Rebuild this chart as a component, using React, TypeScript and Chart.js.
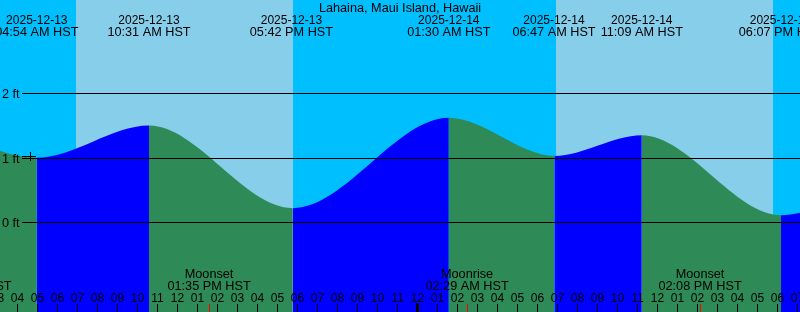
import React, { useEffect, useRef } from 'react';
import { Chart, registerables } from 'chart.js';

Chart.register(...registerables);

// ---- data (hours counted from 2025-12-13 00:00 HST) ----
const stationTitle = 'Lahaina, Maui Island, Hawaii';

// tide extremes as drawn (first and last lie just outside the visible window)
const tideHours = [-0.5, 4.97, 10.58, 17.77, 25.57, 30.85, 35.22, 42.18, 50.3];
const tideFeet = [1.58, 1.0, 1.5, 0.22, 1.62, 1.03, 1.35, 0.11, 1.6];

// labelled tide events along the top
const eventHours = [4.97, 10.58, 17.7, 25.57, 30.83, 35.22, 42.15];
const eventDates = ['2025-12-13', '2025-12-13', '2025-12-13', '2025-12-14', '2025-12-14', '2025-12-14', '2025-12-14'];
const eventTimes = ['04:54 AM HST', '10:31 AM HST', '05:42 PM HST', '01:30 AM HST', '06:47 AM HST', '11:09 AM HST', '06:07 PM HST'];

// sun
const sunriseHours = [6.93, 30.93];
const sunsetHours = [17.78, 41.78];

// moon events along the bottom
const moonHours = [1.63, 13.583, 26.483, 38.133];
const moonNames = ['Moonrise', 'Moonset', 'Moonrise', 'Moonset'];
const moonTimes = ['01:38 AM HST', '01:35 PM HST', '02:29 AM HST', '02:08 PM HST'];

// level lines
const levelFeet = [0, 1, 2];
const levelLabels = ['0 ft', '1 ft', '2 ft'];

// hour ticks
const tickHours = [3, 4, 5, 6, 7, 8, 9, 10, 11, 12, 13, 14, 15, 16, 17, 18, 19, 20, 21, 22, 23, 24, 25, 26, 27, 28, 29, 30, 31, 32, 33, 34, 35, 36, 37, 38, 39, 40, 41, 42, 43, 44];
const tickLabels = ['03', '04', '05', '06', '07', '08', '09', '10', '11', '12', '01', '02', '03', '04', '05', '06', '07', '08', '09', '10', '11', '12', '01', '02', '03', '04', '05', '06', '07', '08', '09', '10', '11', '12', '01', '02', '03', '04', '05', '06', '07', '08'];

// ---- styles ----
const NIGHT = '#00BFFF';
const DAY = '#87CEEB';
const RISING = '#0000FF';
const FALLING = '#2E8B57';
const FAMILY = '"Liberation Sans", Arial, Helvetica, sans-serif';
const FONT_TEXT = '12.7px ' + FAMILY;
const FONT_DIGITS = '12px ' + FAMILY;

const decorPlugin = {
  id: 'tideDecor',
  beforeDatasetsDraw(chart: any) {
    const { ctx, chartArea: a, scales } = chart;
    const x = scales.x;
    ctx.save();
    ctx.fillStyle = NIGHT;
    ctx.fillRect(a.left, a.top, a.right - a.left, a.bottom - a.top);
    ctx.fillStyle = DAY;
    sunriseHours.forEach((sr, i) => {
      const x0 = Math.round(x.getPixelForValue(sr));
      const x1 = Math.round(x.getPixelForValue(sunsetHours[i]));
      ctx.fillRect(x0, a.top, x1 - x0, a.bottom - a.top);
    });
    ctx.restore();
  },
  afterDatasetsDraw(chart: any) {
    const { ctx, chartArea: a, scales } = chart;
    const x = scales.x;
    const y = scales.y;
    ctx.save();
    // level lines
    ctx.fillStyle = '#000';
    levelFeet.forEach((f) => {
      const py = Math.round(y.getPixelForValue(f));
      ctx.fillRect(22, py, a.right - 22, 1);
    });
    // plus mark near the 1 ft line
    const p1 = Math.round(y.getPixelForValue(1));
    ctx.fillRect(22, p1 - 2, 14, 1);
    ctx.fillRect(30, p1 - 6, 1, 9);

    ctx.textBaseline = 'alphabetic';
    ctx.fillStyle = '#000';
    ctx.textAlign = 'left';
    ctx.font = FONT_TEXT;
    levelFeet.forEach((f, i) => {
      const py = Math.round(y.getPixelForValue(f));
      ctx.fillText(levelLabels[i], 2, py + 5);
    });

    ctx.textAlign = 'center';
    ctx.fillText(stationTitle, (a.left + a.right) / 2, 12);
    eventHours.forEach((h, i) => {
      const px = x.getPixelForValue(h);
      ctx.font = FONT_DIGITS;
      ctx.fillText(eventDates[i], px, 24);
      ctx.font = FONT_TEXT;
      ctx.fillText(eventTimes[i], px, 36);
    });

    moonHours.forEach((h, i) => {
      const px = x.getPixelForValue(h);
      ctx.fillText(moonNames[i], px, 278);
      ctx.fillText(moonTimes[i], px, 290);
    });

    ctx.font = FONT_DIGITS;
    tickHours.forEach((h, i) => {
      const px = x.getPixelForValue(h);
      const cx = Math.round(px);
      ctx.fillStyle = '#000';
      if (h % 24 === 0) {
        ctx.fillRect(cx - 1, 303, 3, 9);
      } else {
        ctx.fillRect(cx, 304, 1, 8);
      }
      ctx.fillText(tickLabels[i], px, 302);
    });

    ctx.fillStyle = '#FF0000';
    moonHours.forEach((h) => {
      const cx = Math.round(x.getPixelForValue(h));
      ctx.fillRect(cx, 304, 1, 8);
    });
    ctx.restore();
  },
};

export default function App() {
  const ref = useRef<HTMLCanvasElement | null>(null);
  useEffect(() => {
    document.body.style.margin = '0';
    const canvas = ref.current;
    if (!canvas) return;
    const chart = new Chart(canvas, {
      type: 'line',
      data: {
        datasets: [
          {
            data: tideHours.map((h, i) => ({ x: h, y: tideFeet[i] })),
            fill: 'start',
            backgroundColor: FALLING,
            borderWidth: 0,
            pointRadius: 0,
            cubicInterpolationMode: 'monotone',
            capBezierPoints: false,
            segment: {
              backgroundColor: (c: any) => (c.p1.parsed.y > c.p0.parsed.y ? RISING : FALLING),
            },
          } as any,
        ],
      },
      options: {
        responsive: false,
        animation: false,
        devicePixelRatio: 1,
        events: [],
        layout: { padding: 0 },
        scales: {
          x: { type: 'linear', min: 3.13, max: 43.13, display: false },
          y: { type: 'linear', min: -1.39, max: 3.447, display: false },
        },
        plugins: {
          legend: { display: false },
          tooltip: { enabled: false },
        },
      },
      plugins: [decorPlugin],
    });
    return () => chart.destroy();
  }, []);
  return (
    <div style={{ position: 'absolute', left: 0, top: 0, width: 800, height: 312 }}>
      <canvas ref={ref} width={800} height={312} style={{ display: 'block' }} />
    </div>
  );
}
